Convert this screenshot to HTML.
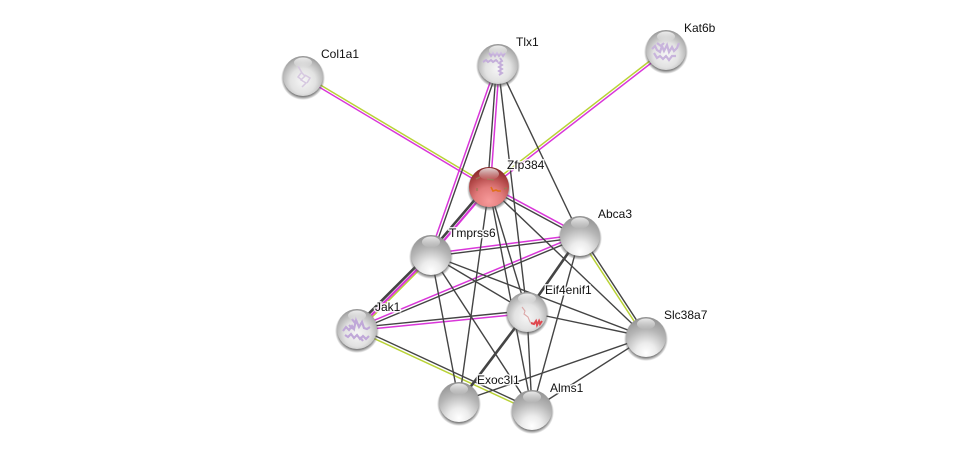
<!DOCTYPE html>
<html><head><meta charset="utf-8"><style>
html,body{margin:0;padding:0;background:#fff;width:976px;height:455px;overflow:hidden}
svg{display:block}
text{font-family:"Liberation Sans",Arial,sans-serif;font-size:12px;fill:#111;paint-order:stroke;stroke:rgba(255,255,255,.85);stroke-width:3px}
.d line{stroke:#444;stroke-width:1.4}
.t line{stroke:#444;stroke-width:2.6}
.m line{stroke:#d936d9;stroke-width:1.5}
.w line{stroke:#d936d9;stroke-width:2.2}
.y line{stroke:#b9d236;stroke-width:1.5}
</style></head><body>
<svg width="976" height="455" viewBox="0 0 976 455" xmlns="http://www.w3.org/2000/svg">
<defs>
<radialGradient id="g" cx="50%" cy="90%" r="90%"><stop offset="0" stop-color="#fff"/><stop offset=".28" stop-color="#ececec"/><stop offset=".65" stop-color="#b6b6b6"/><stop offset="1" stop-color="#929292"/></radialGradient>
<radialGradient id="g2" cx="50%" cy="62%" r="66%"><stop offset="0" stop-color="#f6f6f6"/><stop offset=".48" stop-color="#e2e2e2"/><stop offset=".82" stop-color="#b0b0b0"/><stop offset="1" stop-color="#858585"/></radialGradient>
<radialGradient id="r" cx="50%" cy="85%" r="85%"><stop offset="0" stop-color="#f79a9a"/><stop offset=".4" stop-color="#e27c7c"/><stop offset=".75" stop-color="#b04646"/><stop offset="1" stop-color="#802424"/></radialGradient>
<linearGradient id="h" x1="0" y1="0" x2="0" y2="1"><stop offset="0" stop-color="#fff" stop-opacity=".8"/><stop offset="1" stop-color="#fff" stop-opacity="0"/></linearGradient>
<radialGradient id="s"><stop offset=".84" stop-color="#555" stop-opacity=".75"/><stop offset="1" stop-color="#555" stop-opacity="0"/></radialGradient>
<g id="n"><circle cy="2" r="22" fill="url(#s)"/><circle r="20" fill="url(#g)"/><ellipse cy="-13" rx="9" ry="5.500" fill="url(#h)"/></g>
<g id="p"><circle cy="2" r="22" fill="url(#s)"/><circle r="20" fill="url(#g2)"/></g>
<g id="hl"><ellipse cy="-13.500" rx="9" ry="5" fill="url(#h)"/></g>
</defs>

<g class="y">
<line x1="303.700" y1="75" x2="489.700" y2="186"/>
<line x1="665.200" y1="49" x2="488.200" y2="186"/>
<line x1="432.600" y1="256.600" x2="358.600" y2="330.600"/>
<line x1="356.400" y1="330.300" x2="531.400" y2="411.300"/>
<line x1="578.900" y1="236.700" x2="644.900" y2="337.700"/>
</g>
<g class="m">
<line x1="302.300" y1="77" x2="488.300" y2="188"/>
<line x1="666.800" y1="51" x2="489.800" y2="188"/>
<line x1="499.400" y1="64" x2="490.400" y2="187"/>
<line x1="496.700" y1="63.500" x2="429.700" y2="254.500"/>
<line x1="490" y1="185.800" x2="581" y2="234.800"/>
<line x1="430.800" y1="253.600" x2="579.800" y2="234.600"/>
<line x1="356.500" y1="327.700" x2="579.500" y2="234.700"/>
<line x1="357.200" y1="330.400" x2="527.200" y2="313.400"/>
</g>
<g class="d">
<line x1="496.600" y1="64" x2="487.600" y2="187"/>
<line x1="499.300" y1="64.500" x2="432.300" y2="255.500"/>
<line x1="498" y1="64" x2="527" y2="312"/>
<line x1="498" y1="64" x2="580" y2="236"/>
<line x1="488.500" y1="188.200" x2="579.500" y2="237.200"/>
<line x1="489" y1="187" x2="646" y2="337"/>
<line x1="489" y1="187" x2="527" y2="312"/>
<line x1="489" y1="187" x2="532" y2="410"/>
<line x1="489" y1="187" x2="459" y2="402"/>
<line x1="431.200" y1="256.400" x2="580.200" y2="237.400"/>
<line x1="431" y1="255" x2="527" y2="312"/>
<line x1="431" y1="255" x2="459" y2="402"/>
<line x1="431" y1="255" x2="532" y2="410"/>
<line x1="431" y1="255" x2="646" y2="337"/>
<line x1="357.500" y1="330.300" x2="580.500" y2="237.300"/>
<line x1="580" y1="236" x2="532" y2="410"/>
<line x1="581.100" y1="235.300" x2="647.100" y2="336.300"/>
<line x1="356.800" y1="327.600" x2="526.800" y2="310.600"/>
<line x1="357.600" y1="327.700" x2="532.600" y2="408.700"/>
<line x1="527" y1="312" x2="532" y2="410"/>
<line x1="527" y1="312" x2="646" y2="337"/>
<line x1="646" y1="337" x2="532" y2="410"/>
<line x1="646" y1="337" x2="459" y2="402"/>
</g>
<g class="t">
<line x1="487.200" y1="185.200" x2="429.200" y2="253.200"/>
<line x1="429.200" y1="253.200" x2="355.200" y2="327.200"/>
<line x1="580" y1="236" x2="527" y2="312"/>
<line x1="527" y1="312" x2="459" y2="402"/>
</g>
<g class="w">
<line x1="489.300" y1="187.300" x2="431.300" y2="255.300"/>
<line x1="431.300" y1="255.300" x2="357.300" y2="329.300"/>
</g>

<text x="321" y="58">Col1a1</text>
<text x="516" y="46">Tlx1</text>
<text x="684" y="32">Kat6b</text>
<text x="507" y="169">Zfp384</text>
<text x="598" y="218">Abca3</text>
<text x="449" y="237">Tmprss6</text>
<text x="375" y="311">Jak1</text>
<text x="545" y="294">Eif4enif1</text>
<text x="664" y="319">Slc38a7</text>
<text x="477" y="384">Exoc3l1</text>
<text x="550" y="392">Alms1</text>

<use href="#p" x="303" y="76"/>
<path d="M298 66l4 7 3 3-4 4 5 3-4 4M305 75l5 3-3 5M301 73l-3 4 4 3" fill="none" stroke="#d6c8e0" stroke-width="1.500"/>
<use href="#hl" x="303" y="76"/>

<use href="#p" x="498" y="64"/>
<path d="M483 62l3-2 2 2 3-2 2 2 3-2 2 2M489 53l2 3 2-3 2 3 2-3 2 3 2-3 2 3 2-3M500 58l2 3-3 2 3 2-3 2 3 2-3 2 3 2-3 2" fill="none" stroke="#c4aeda" stroke-width="2"/>
<use href="#hl" x="498" y="64"/>

<use href="#p" x="666" y="50"/>
<path d="M652 49l3-3 2 4 3 2 2-6 2 5 3-6 2 7 3-5 2 4 3-3 2-5M654 53l3 5 3-2 3 3 3-3 3 4 3-4 4 0M657 43l4 3 3-3" fill="none" stroke="#c8b4dc" stroke-width="2.200"/>
<use href="#hl" x="666" y="50"/>

<circle cx="489" cy="189" r="22" fill="url(#s)"/>
<circle cx="489" cy="187" r="20" fill="url(#r)"/>
<path d="M476 179l4-2M487 179l7 1M477 188v3M504 189l3-1" fill="none" stroke="#9b7a55" stroke-width="1.300"/>
<path d="M491 187l2 4 3-1 2 1 3 0" fill="none" stroke="#e0701a" stroke-width="1.600"/>
<ellipse cx="489" cy="174" rx="10" ry="6" fill="url(#h)"/>

<use href="#n" x="580" y="236"/>
<use href="#n" x="431" y="255"/>

<use href="#p" x="357" y="329"/>
<path d="M343 331l3-4 3 3 3-4 2 3 2-9 3 7 3-5 2 6 3 1 3-2M345 335l3 2 3-3 3 4 3-3 3 4 3-3 3 3 3-3M352 319l3 4M349 325l4 4M360 337l3 4" fill="none" stroke="#c0a8d8" stroke-width="2.200"/>
<use href="#hl" x="357" y="329"/>

<use href="#p" x="527" y="312"/>
<path d="M522 307l3 4-1 3 4 3 2 5 2 1" fill="none" stroke="#dba8a8" stroke-width="1.100"/>
<path d="M531 323l3 1 2-3 1 4 2-4 1 3 2-3" fill="none" stroke="#e0484f" stroke-width="2"/>
<use href="#hl" x="527" y="312"/>

<use href="#n" x="646" y="337"/>
<use href="#n" x="459" y="402"/>
<use href="#n" x="532" y="410"/>
</svg>
</body></html>
